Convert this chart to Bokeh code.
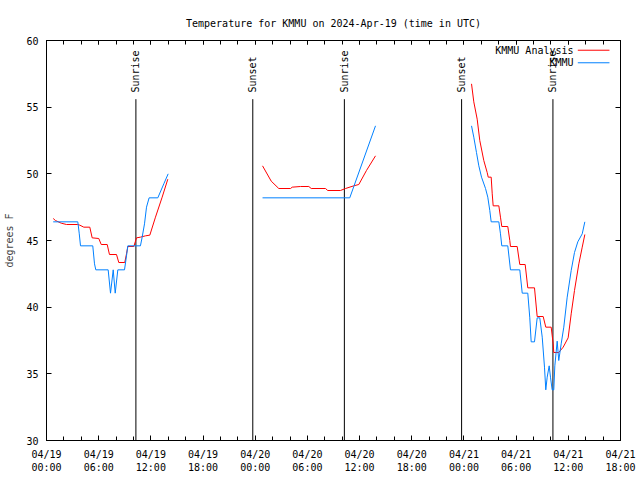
import math
from bokeh.plotting import figure
from bokeh.models import FixedTicker, LinearAxis, Range1d, CustomJSTickFormatter
from bokeh.embed import file_html
from bokeh.resources import INLINE
from bokeh.core.properties import value

NaN = float("nan")
FONT = "DejaVu Sans Mono"

# Time in hours since 2024-04-19 00:00 UTC
analysis_hours = [
    0.77, 1.03, 1.69, 2.30, 3.60, 3.83, 4.29, 4.98, 5.25, 6.01, 6.29, 6.98, 7.24, 8.05,
    8.31, 9.00, 9.20, 9.35, 10.04, 10.35, 10.80, 11.38, 11.88, 12.53, 13.30, 13.95,
    NaN,
    24.84, 25.84, 26.71, 28.06, 28.25, 29.20, 30.16, 30.44, 32.08, 32.34, 33.80, 34.38,
    35.33, 35.91, 36.79, 37.83,
    NaN,
    48.87, 49.13, 49.52, 49.82, 50.28, 50.67, 50.79, 51.13, 51.25, 51.36, 52.01, 52.20,
    52.35, 53.04, 53.27, 53.35, 54.12, 54.42, 55.04, 55.34, 56.11, 56.42, 57.11, 57.41,
    58.03, 58.26, 58.33, 58.90, 59.41, 59.98, 60.33, 60.71, 61.21, 61.60, 61.90,
]
analysis_temp = [
    46.65, 46.5, 46.3, 46.2, 46.2, 46.15, 46.0, 46.0, 45.2, 45.15, 44.7, 44.7, 43.95, 43.95,
    43.35, 43.35, 44.0, 44.55, 44.55, 45.2, 45.25, 45.35, 45.4, 46.75, 48.25, 49.6,
    NaN,
    50.6, 49.45, 48.9, 48.9, 49.0, 49.05, 49.05, 48.9, 48.9, 48.75, 48.75, 48.9,
    49.1, 49.2, 50.25, 51.35,
    NaN,
    56.75, 55.4, 54.1, 52.5, 51.0, 50.1, 49.75, 49.75, 48.5, 47.6, 47.6, 46.75,
    46.05, 46.05, 45.0, 44.55, 44.55, 43.2, 43.2, 41.45, 41.45, 39.3, 39.3, 38.5,
    38.5, 37.25, 36.6, 36.6, 37.0, 37.7, 39.5, 41.25, 43.25, 44.5, 45.45,
]
obs_hours = [
    0.77, 3.60, 3.76, 3.91, 5.32, 5.52, 5.67, 7.09, 7.36, 7.67, 7.90, 8.20, 8.97, 9.20,
    9.35, 10.80, 11.00, 11.27, 11.50, 11.80, 12.80, 13.49, 13.99,
    NaN,
    24.84, 34.87, 37.83,
    NaN,
    48.87, 49.13, 49.44, 49.71, 50.02, 50.48, 50.74, 50.97, 51.13, 52.01, 52.20, 52.35,
    53.04, 53.35, 54.42, 54.70, 55.34, 55.57, 55.73, 56.11, 56.42, 56.72, 57.00, 57.26,
    57.41, 57.57, 57.80, 57.95, 58.14, 58.33, 58.45, 58.72, 58.90, 59.18, 59.48, 59.87,
    60.33, 60.71, 61.09, 61.60, 61.90,
]
obs_temp = [
    46.4, 46.4, 45.55, 44.6, 44.6, 43.25, 42.8, 42.8, 41.05, 42.8, 41.05, 42.8, 42.8, 43.85,
    44.6, 44.6, 45.25, 46.25, 47.5, 48.2, 48.2, 49.25, 50.0,
    NaN,
    48.2, 48.2, 53.6,
    NaN,
    53.6, 52.75, 51.6, 50.6, 49.75, 48.9, 48.25, 47.25, 46.4, 46.4, 45.5, 44.6,
    44.6, 42.8, 42.8, 41.05, 41.05, 39.2, 37.4, 37.4, 39.2, 39.2, 37.75, 35.5,
    33.8, 34.75, 35.6, 34.75, 33.8, 33.8, 35.6, 37.45, 36.0, 37.25, 38.5, 40.75,
    42.75, 44.1, 44.9, 45.5, 46.4,
]

sun_hours = [10.28, 23.72, 34.25, 47.73, 58.23]
sun_labels = ["Sunrise", "Sunset", "Sunrise", "Sunset", "Sunrise"]

x_tick_hours = list(range(0, 67, 6))
x_minor_hours = list(range(0, 67, 2))
x_tick_labels = [
    "04/19\n00:00", "04/19\n06:00", "04/19\n12:00", "04/19\n18:00",
    "04/20\n00:00", "04/20\n06:00", "04/20\n12:00", "04/20\n18:00",
    "04/21\n00:00", "04/21\n06:00", "04/21\n12:00", "04/21\n18:00",
]
y_ticks = [30, 35, 40, 45, 50, 55, 60]

series_names = ["KMMU Analysis", "KMMU"]
series_colors = ["#ff0000", "#0080ff"]

p = figure(
    width=640, height=480,
    x_range=Range1d(0, 66), y_range=Range1d(30, 60),
    output_backend="svg", toolbar_location=None,
    min_border_left=46, min_border_right=20, min_border_top=40, min_border_bottom=40,
    title="Temperature for KMMU on 2024-Apr-19 (time in UTC)",
)
p.title.text_font = FONT
p.title.text_font_size = "10px"
p.title.text_font_style = "normal"
p.title.align = "center"
p.title.text_color = "black"
p.title.standoff = 24
p.grid.visible = False
p.outline_line_color = "black"
p.background_fill_color = "white"
p.border_fill_color = "white"

xt = FixedTicker(ticks=x_tick_hours, minor_ticks=x_minor_hours)
yt = FixedTicker(ticks=y_ticks)

for ax in p.xaxis:
    ax.ticker = xt
    ax.major_label_overrides = {h: l for h, l in zip(x_tick_hours, x_tick_labels)}
for ax in p.yaxis:
    ax.ticker = yt
    ax.axis_label = "degrees F"
    ax.axis_label_text_font = FONT
    ax.axis_label_text_font_size = "10px"
    ax.axis_label_text_font_style = "normal"
    ax.axis_label_standoff = 8

for ax in list(p.xaxis) + list(p.yaxis):
    ax.major_label_text_font = FONT
    ax.major_label_text_font_size = "10px"
    ax.major_label_text_color = "black"
    ax.major_label_standoff = 8
    ax.major_tick_in = 5
    ax.major_tick_out = 0
    ax.minor_tick_in = 4
    ax.minor_tick_out = 0
    ax.axis_line_color = "black"
    ax.major_tick_line_color = "black"
    ax.minor_tick_line_color = "black"

# mirrored ticks on the right and top edges (no labels)
blank = CustomJSTickFormatter(code="return '';")
ra = LinearAxis(ticker=FixedTicker(ticks=y_ticks), formatter=blank,
                major_tick_in=5, major_tick_out=0, minor_tick_out=0, major_label_standoff=0)
p.add_layout(ra, "right")
ta = LinearAxis(ticker=FixedTicker(ticks=x_tick_hours, minor_ticks=x_minor_hours), formatter=blank,
                major_tick_in=4, major_tick_out=0, minor_tick_in=4, minor_tick_out=0,
                major_label_standoff=0)
p.add_layout(ta, "above")

# Sunrise / sunset markers
sun_line_top = 55.6
sun_label_base = 56.1
p.segment(x0=sun_hours, y0=[30] * len(sun_hours), x1=sun_hours, y1=[sun_line_top] * len(sun_hours),
          line_color="black", line_width=1)
p.text(x=sun_hours, y=[sun_label_base] * len(sun_hours), text=sun_labels, angle=math.pi / 2,
       text_align="left", text_baseline="middle", text_font=value(FONT),
       text_font_size="10px", text_color="black")

p.line(analysis_hours, analysis_temp, line_color=series_colors[0], line_width=1)
p.line(obs_hours, obs_temp, line_color=series_colors[1], line_width=1)

# gnuplot-style key (text then sample line)
key_text_x = 60.6
key_y = [59.27, 58.33]
key_x0 = 61.09
key_x1 = 64.73
p.text(x=[key_text_x] * 2, y=key_y, text=series_names, text_align="right", text_baseline="middle",
       text_font=value(FONT), text_font_size="10px", text_color="black")
p.segment(x0=[key_x0] * 2, y0=key_y, x1=[key_x1] * 2, y1=key_y, line_color=series_colors, line_width=1)

open("out.html", "w").write(file_html(p, INLINE))
